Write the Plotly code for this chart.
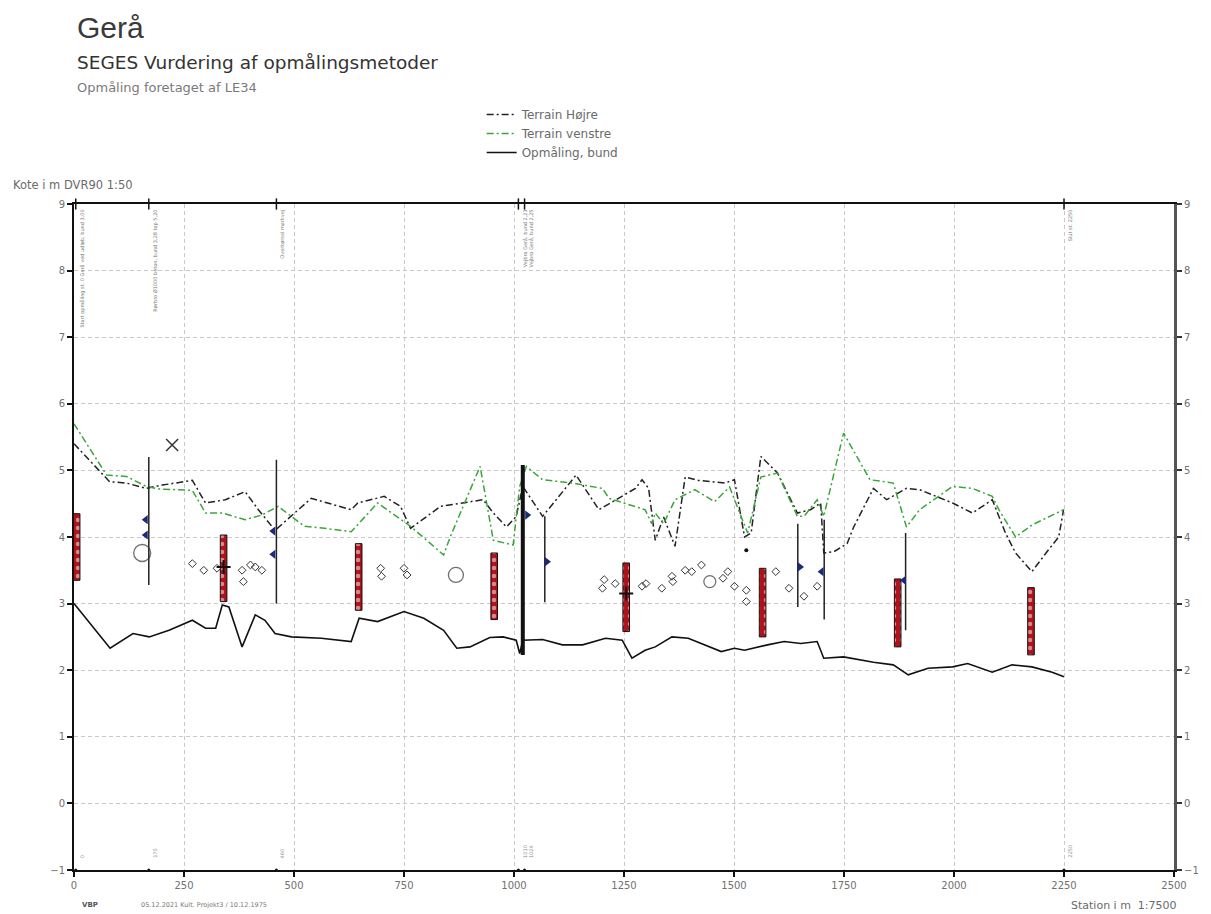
import plotly.graph_objects as go

# ---- længdeprofil, Gerå ----
bund_x = [0, 82, 134, 171, 216, 269, 299, 322, 337, 352, 382, 412, 434, 457, 494, 562, 630, 648,
          690, 750, 795, 840, 870, 900, 945, 975, 1005, 1013, 1020, 1065, 1110, 1156, 1208, 1246,
          1268, 1298, 1321, 1359, 1396, 1434, 1471, 1501, 1524, 1576, 1614, 1652, 1689, 1704, 1749,
          1817, 1862, 1896, 1941, 1997, 2031, 2087, 2132, 2177, 2223, 2250]
bund_y = [3.0, 2.33, 2.55, 2.5, 2.6, 2.75, 2.63, 2.63, 2.98, 2.95, 2.35, 2.83, 2.75, 2.55, 2.5, 2.48, 2.43, 2.78,
          2.73, 2.88, 2.78, 2.6, 2.33, 2.35, 2.49, 2.5, 2.45, 2.25, 2.45, 2.46, 2.38, 2.38, 2.48, 2.45,
          2.18, 2.3, 2.35, 2.5, 2.48, 2.38, 2.28, 2.33, 2.3, 2.38, 2.43, 2.4, 2.43, 2.18, 2.2,
          2.12, 2.08, 1.93, 2.03, 2.05, 2.1, 1.97, 2.08, 2.05, 1.97, 1.9]

hojre_x = [0, 81, 119, 164, 201, 246, 269, 299, 344, 389, 419, 457, 494, 539, 630, 645, 705, 742, 765,
           833, 930, 953, 983, 1005, 1020, 1065, 1096, 1141, 1193, 1276, 1291, 1306, 1321, 1340, 1366,
           1389, 1419, 1479, 1501, 1524, 1539, 1561, 1599, 1644, 1674, 1697, 1704, 1727, 1757, 1772,
           1817, 1847, 1892, 1922, 1997, 2042, 2087, 2117, 2140, 2177, 2215, 2238, 2249]
hojre_y = [5.4, 4.83, 4.81, 4.73, 4.78, 4.83, 4.85, 4.51, 4.56, 4.68, 4.41, 4.1, 4.31, 4.58, 4.41, 4.51, 4.61, 4.46, 4.13,
           4.46, 4.56, 4.36, 4.15, 4.31, 4.76, 4.31, 4.56, 4.93, 4.41, 4.73, 4.86, 4.73, 3.95, 4.3, 3.86,
           4.9, 4.85, 4.81, 4.86, 4.0, 4.06, 5.21, 4.96, 4.36, 4.41, 4.51, 3.76, 3.78, 3.9, 4.15,
           4.73, 4.56, 4.73, 4.71, 4.51, 4.36, 4.56, 4.06, 3.76, 3.48, 3.81, 4.0, 4.41]

venstre_x = [0, 74, 119, 164, 194, 269, 299, 337, 389, 427, 464, 494, 524, 569, 630, 690, 765, 840, 855,
             923, 953, 998, 1013, 1028, 1065, 1133, 1201, 1216, 1298, 1313, 1321, 1340, 1366, 1411, 1456,
             1490, 1531, 1561, 1599, 1644, 1659, 1689, 1704, 1749, 1809, 1862, 1892, 1922, 1997, 2042,
             2087, 2102, 2140, 2177, 2223, 2249]
venstre_y = [5.7, 4.93, 4.91, 4.76, 4.72, 4.7, 4.36, 4.36, 4.26, 4.33, 4.46, 4.31, 4.16, 4.13, 4.08, 4.51, 4.16, 3.73, 4.0,
             5.06, 3.95, 3.88, 4.76, 5.06, 4.86, 4.81, 4.73, 4.58, 4.41, 4.2, 4.36, 4.2, 4.56, 4.71, 4.53,
             4.75, 4.06, 4.9, 4.96, 4.31, 4.31, 4.56, 4.31, 5.56, 4.86, 4.81, 4.15, 4.41, 4.76, 4.73,
             4.61, 4.41, 4.0, 4.18, 4.33, 4.41]

# vandstandsmålere (rød/hvid stok)
stok_x = [6, 340, 647, 955, 1255, 1565, 1872, 2175]
stok_top = [4.35, 4.03, 3.9, 3.76, 3.61, 3.53, 3.37, 3.24]
stok_bund = [3.35, 3.03, 2.9, 2.76, 2.58, 2.5, 2.35, 2.23]

# lodrette pæle / bygværker
pael_x = [170, 460, 1070, 1645, 1705, 1890]
pael_top = [5.2, 5.16, 4.31, 4.2, 4.26, 4.06]
pael_bund = [3.28, 3.0, 3.02, 2.95, 2.76, 2.6]
bro_x = 1020
bro_top = 5.08
bro_bund = 2.23

# vandspejlsmarkeringer
vsp_x = [163, 163, 453, 453, 1030, 1075, 1650, 1699, 1886]
vsp_y = [4.26, 4.03, 4.09, 3.74, 4.33, 3.63, 3.55, 3.48, 3.35]
vsp_sym = ["triangle-left", "triangle-left", "triangle-left", "triangle-left", "triangle-right",
           "triangle-right", "triangle-right", "triangle-left", "triangle-left"]

# enkeltpunkter
pkt_x = [269, 295, 325, 382, 385, 401, 412, 427, 697, 699, 750, 757, 1201, 1205, 1230, 1291, 1300,
         1336, 1359, 1361, 1389, 1404, 1426, 1475, 1486, 1501, 1528, 1528, 1595, 1625, 1659, 1689]
pkt_y = [3.6, 3.5, 3.53, 3.5, 3.33, 3.58, 3.55, 3.5, 3.53, 3.41, 3.53, 3.43, 3.23, 3.36, 3.3, 3.26, 3.3,
         3.23, 3.41, 3.33, 3.5, 3.48, 3.58, 3.38, 3.48, 3.26, 3.2, 3.03, 3.48, 3.23, 3.11, 3.26]
ring_x = [155, 868, 1445]
ring_y = [3.76, 3.43, 3.33]
ring_size = [17, 15, 12]
kryds_x = [223]
kryds_y = [5.38]
plus_x = [340, 1255]
plus_y = [3.55, 3.15]
prik_x = [1528]
prik_y = [3.8]

# stationsnoter
note_x = [4, 170, 460, 1010, 1024, 2250]
note_top = ["Start opmåling st. 0 Gerå ved udløb, bund 3,00",
            "Rørbro Ø1000 beton, bund 3,28 top 5,20",
            "Overkørsel markvej",
            "Vejbro Gerå, bund 2,23",
            "Vejbro Gerå, bund 2,25",
            "Slut st. 2250"]
note_bund = ["0", "170", "460", "1010", "1024", "2250"]

x_ticks = [0, 250, 500, 750, 1000, 1250, 1500, 1750, 2000, 2250, 2500]
y_ticks = [-1, 0, 1, 2, 3, 4, 5, 6, 7, 8, 9]

W, H = 1211, 914
L, R, T, B = 74, 28, 204, 44
PW, PH = W - L - R, H - T - B


def xp(px):
    return (px - L) / PW


def yp(py):
    return (H - B - py) / PH


fig = go.Figure()

fig.add_trace(go.Scatter(x=hojre_x, y=hojre_y, mode="lines", name="Terrain Højre",
                         line=dict(color="#222222", width=1.5, dash="7px,3px,2px,3px")))
fig.add_trace(go.Scatter(x=venstre_x, y=venstre_y, mode="lines", name="Terrain venstre",
                         line=dict(color="#3aa63a", width=1.5, dash="7px,3px,2px,3px")))
fig.add_trace(go.Scatter(x=bund_x, y=bund_y, mode="lines", name="Opmåling, bund",
                         line=dict(color="#111111", width=1.6)))

# stokke
fig.add_trace(go.Bar(x=stok_x, y=[t - b for t, b in zip(stok_top, stok_bund)], base=stok_bund,
                     width=15, showlegend=False, hoverinfo="skip",
                     marker=dict(color="#b0121c", line=dict(color="#111111", width=1),
                                 pattern=dict(shape=".", fgcolor="white", bgcolor="#b0121c",
                                              size=8, solidity=0.25))))

# pæle
px_, py_ = [], []
for x, t, b in zip(pael_x, pael_top, pael_bund):
    px_ += [x, x, None]
    py_ += [t, b, None]
fig.add_trace(go.Scatter(x=px_, y=py_, mode="lines", showlegend=False, hoverinfo="skip",
                         line=dict(color="#222222", width=1.5)))
fig.add_trace(go.Scatter(x=[bro_x, bro_x], y=[bro_top, bro_bund], mode="lines", showlegend=False,
                         hoverinfo="skip", line=dict(color="#111111", width=4)))

fig.add_trace(go.Scatter(x=vsp_x, y=vsp_y, mode="markers", showlegend=False, hoverinfo="skip",
                         marker=dict(symbol=vsp_sym, size=8, color="#1c2a7a")))

fig.add_trace(go.Scatter(x=pkt_x, y=pkt_y, mode="markers", showlegend=False, hoverinfo="skip",
                         marker=dict(symbol="diamond-open", size=6, color="#333333",
                                     line=dict(width=1))))
fig.add_trace(go.Scatter(x=ring_x, y=ring_y, mode="markers", showlegend=False, hoverinfo="skip",
                         marker=dict(symbol="circle-open", size=ring_size, color="#333333",
                                     line=dict(width=1.3))))
fig.add_trace(go.Scatter(x=kryds_x, y=kryds_y, mode="markers", showlegend=False, hoverinfo="skip",
                         marker=dict(symbol="x-thin-open", size=12, color="#333333",
                                     line=dict(width=1.5))))
fig.add_trace(go.Scatter(x=plus_x, y=plus_y, mode="markers", showlegend=False, hoverinfo="skip",
                         marker=dict(symbol="cross-thin-open", size=10, color="#111111",
                                     line=dict(width=2))))
fig.add_trace(go.Scatter(x=prik_x, y=prik_y, mode="markers", showlegend=False, hoverinfo="skip",
                         marker=dict(symbol="circle", size=4, color="#111111")))

# små mærker på top- og bundlinje ved noter
fig.add_trace(go.Scatter(x=note_x, y=[9] * len(note_x), mode="markers", showlegend=False,
                         hoverinfo="skip", cliponaxis=False,
                         marker=dict(symbol="line-ns-open", size=8, color="#111111",
                                     line=dict(width=1.5))))
fig.add_trace(go.Scatter(x=note_x, y=[-1] * len(note_x), mode="markers", showlegend=False,
                         hoverinfo="skip", cliponaxis=False,
                         marker=dict(symbol="circle", size=3, color="#111111")))

# højre akse
fig.add_trace(go.Scatter(x=[0], y=[-1], yaxis="y2", mode="markers", showlegend=False,
                         hoverinfo="skip", marker=dict(opacity=0)))

grey = "#707070"
tickfont = dict(family="DejaVu Sans", size=10, color=grey)
gridc = "#c9c9c9"

fig.update_layout(
    width=W, height=H,
    margin=dict(l=L, r=R, t=T, b=B),
    paper_bgcolor="white", plot_bgcolor="white",
    barmode="overlay",
    font=dict(family="DejaVu Sans", color=grey),
    xaxis=dict(range=[0, 2500], tickvals=x_ticks, ticks="outside", ticklen=5, tickwidth=1.5,
               tickcolor="#111111", showline=True, linecolor="#111111", linewidth=2,
               mirror=True, showgrid=True, gridcolor=gridc, griddash="4px,3px", gridwidth=1,
               zeroline=False, tickfont=tickfont),
    yaxis=dict(range=[-1, 9], tickvals=y_ticks, ticks="outside", ticklen=5, tickwidth=1.5,
               tickcolor="#111111", showline=True, linecolor="#111111", linewidth=2,
               showgrid=True, gridcolor=gridc, griddash="4px,3px", gridwidth=1,
               zeroline=False, tickfont=tickfont),
    yaxis2=dict(range=[-1, 9], tickvals=y_ticks, overlaying="y", side="right", ticks="outside",
                ticklen=5, tickwidth=1.5, tickcolor="#333333", showline=True,
                linecolor="#555555", linewidth=3, showgrid=False, zeroline=False,
                tickfont=tickfont),
    legend=dict(x=xp(485), y=yp(100), xanchor="left", yanchor="top", bgcolor="rgba(0,0,0,0)",
                font=dict(family="DejaVu Sans", size=12, color="#6a6a6a"), tracegroupgap=0,
                itemwidth=30),
    showlegend=True,
)

ann = [
    dict(text="Gerå", x=xp(75), y=yp(27), font=dict(family="Liberation Sans", size=30, color="#3a3a3a")),
    dict(text="SEGES Vurdering af opmålingsmetoder", x=xp(75), y=yp(62),
         font=dict(family="DejaVu Sans", size=18.5, color="#333333")),
    dict(text="Opmåling foretaget af LE34", x=xp(75), y=yp(88),
         font=dict(family="DejaVu Sans", size=13, color="#7a7a7a")),
    dict(text="Kote i m DVR90 1:50", x=xp(10), y=yp(185),
         font=dict(family="DejaVu Sans", size=11.5, color="#6a6a6a")),
    dict(text="Station i m  1:7500", x=xp(1077), y=yp(905),
         font=dict(family="DejaVu Sans", size=11, color="#6a6a6a")),
    dict(text="<b>VBP</b>", x=xp(80), y=yp(905),
         font=dict(family="DejaVu Sans", size=7, color="#555555")),
    dict(text="05.12.2021 Kult. Projekt3 / 10.12.1975", x=xp(140), y=yp(905),
         font=dict(family="DejaVu Sans", size=6.5, color="#777777")),
]
for a in ann:
    a.update(xref="paper", yref="paper", xanchor="left", yanchor="middle", showarrow=False)
    fig.add_annotation(**a)

for x, t, b in zip(note_x, note_top, note_bund):
    fig.add_annotation(x=x, y=8.95, xref="x", yref="y", text=t, textangle=-90, showarrow=False,
                       xanchor="left", yanchor="top", xshift=1,
                       font=dict(family="DejaVu Sans", size=5, color="#777777"))
    fig.add_annotation(x=x, y=-0.85, xref="x", yref="y", text=b, textangle=-90, showarrow=False,
                       xanchor="left", yanchor="bottom", xshift=1,
                       font=dict(family="DejaVu Sans", size=5, color="#8a8a8a"))

fig.write_html("out.html")
